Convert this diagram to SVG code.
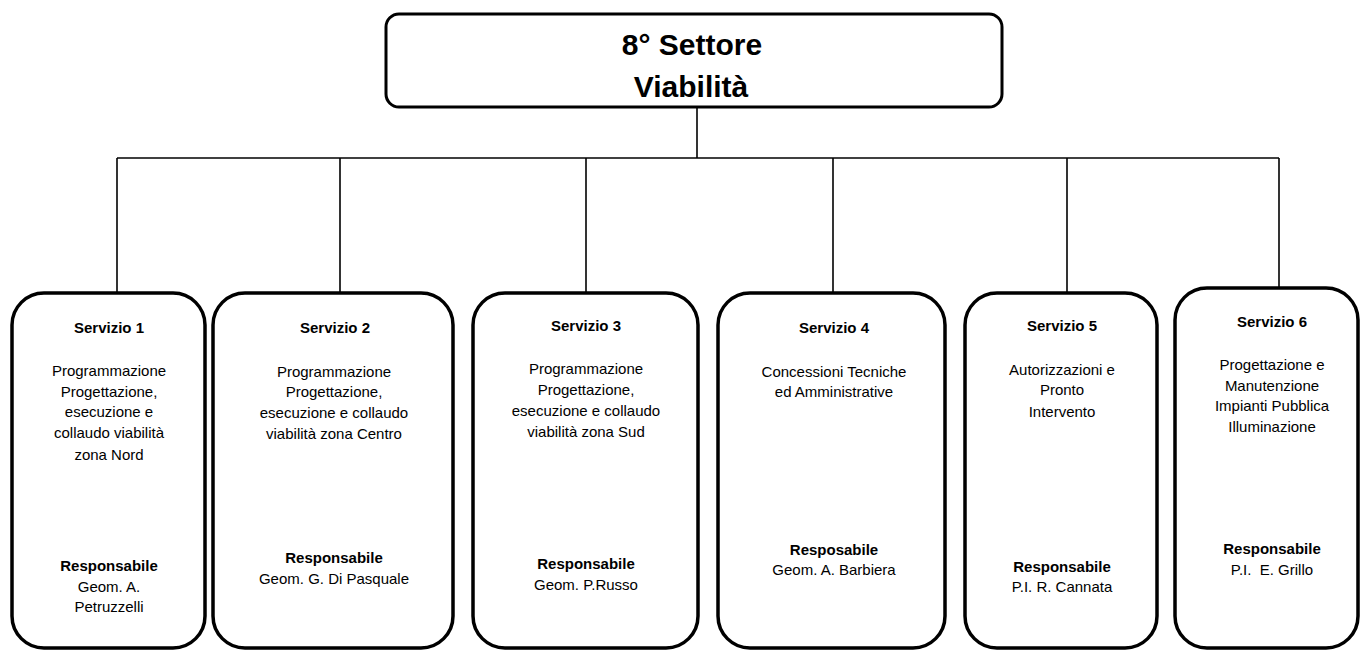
<svg xmlns="http://www.w3.org/2000/svg" width="1360" height="653" viewBox="0 0 1360 653">
<style>
.box{fill:#fff;stroke:#000;stroke-width:3.5}
.top{fill:#fff;stroke:#000;stroke-width:3}
.ln{fill:none;stroke:#000;stroke-width:1.6}
text{font-family:"Liberation Sans",Arial,sans-serif;fill:#000;text-anchor:middle}
.t{font-size:30px;font-weight:bold}
.h{font-size:15px;font-weight:bold}
.b{font-size:15px}
.r{font-size:15px;font-weight:bold}
</style>
<rect width="1360" height="653" fill="#fff"/>
<g id="connectors">
<line class="ln" x1="697" y1="107" x2="697" y2="158"/>
<line class="ln" x1="117" y1="158" x2="1279" y2="158"/>
<line class="ln" x1="117" y1="158" x2="117" y2="293"/>
<line class="ln" x1="340" y1="158" x2="340" y2="293"/>
<line class="ln" x1="586" y1="158" x2="586" y2="293"/>
<line class="ln" x1="833" y1="158" x2="833" y2="293"/>
<line class="ln" x1="1067" y1="158" x2="1067" y2="293"/>
<line class="ln" x1="1279" y1="158" x2="1279" y2="288"/>
</g>
<g id="settore">
<rect class="top" x="386" y="14" width="616" height="93" rx="13"/>
<text class="t" x="692" y="55">8° Settore</text>
<text class="t" x="691" y="97">Viabilità</text>
</g>
<g id="servizio1">
<rect class="box" x="12" y="293" width="193" height="355" rx="32"/>
<text class="h" x="109" y="333">Servizio 1</text>
<text class="b" x="109" y="376">Programmazione</text>
<text class="b" x="109" y="397">Progettazione,</text>
<text class="b" x="109" y="417">esecuzione e</text>
<text class="b" x="109" y="438">collaudo viabilità</text>
<text class="b" x="109" y="460">zona Nord</text>
<text class="r" x="109" y="571">Responsabile</text>
<text class="b" x="109" y="592">Geom. A.</text>
<text class="b" x="109" y="612">Petruzzelli</text>
</g>
<g id="servizio2">
<rect class="box" x="213" y="293" width="240" height="355" rx="32"/>
<text class="h" x="335" y="333">Servizio 2</text>
<text class="b" x="334" y="377">Programmazione</text>
<text class="b" x="334" y="397">Progettazione,</text>
<text class="b" x="334" y="418">esecuzione e collaudo</text>
<text class="b" x="334" y="439">viabilità zona Centro</text>
<text class="r" x="334" y="563">Responsabile</text>
<text class="b" x="334" y="584">Geom. G. Di Pasquale</text>
</g>
<g id="servizio3">
<rect class="box" x="473" y="293" width="225" height="355" rx="32"/>
<text class="h" x="586" y="331">Servizio 3</text>
<text class="b" x="586" y="374">Programmazione</text>
<text class="b" x="586" y="395">Progettazione,</text>
<text class="b" x="586" y="416">esecuzione e collaudo</text>
<text class="b" x="586" y="437">viabilità zona Sud</text>
<text class="r" x="586" y="569">Responsabile</text>
<text class="b" x="586" y="590">Geom. P.Russo</text>
</g>
<g id="servizio4">
<rect class="box" x="718" y="293" width="227" height="355" rx="32"/>
<text class="h" x="834" y="333">Servizio 4</text>
<text class="b" x="834" y="377">Concessioni Tecniche</text>
<text class="b" x="834" y="397">ed Amministrative</text>
<text class="r" x="834" y="555">Resposabile</text>
<text class="b" x="834" y="575">Geom. A. Barbiera</text>
</g>
<g id="servizio5">
<rect class="box" x="965" y="293" width="192" height="355" rx="32"/>
<text class="h" x="1062" y="331">Servizio 5</text>
<text class="b" x="1062" y="375">Autorizzazioni e</text>
<text class="b" x="1062" y="395">Pronto</text>
<text class="b" x="1062" y="417">Intervento</text>
<text class="r" x="1062" y="572">Responsabile</text>
<text class="b" x="1062" y="592">P.I. R. Cannata</text>
</g>
<g id="servizio6">
<rect class="box" x="1175" y="288" width="183" height="360" rx="32"/>
<text class="h" x="1272" y="327">Servizio 6</text>
<text class="b" x="1272" y="370">Progettazione e</text>
<text class="b" x="1272" y="391">Manutenzione</text>
<text class="b" x="1272" y="411">Impianti Pubblica</text>
<text class="b" x="1272" y="432">Illuminazione</text>
<text class="r" x="1272" y="554">Responsabile</text>
<text class="b" x="1272" y="575" xml:space="preserve">P.I.  E. Grillo</text>
</g>
</svg>
